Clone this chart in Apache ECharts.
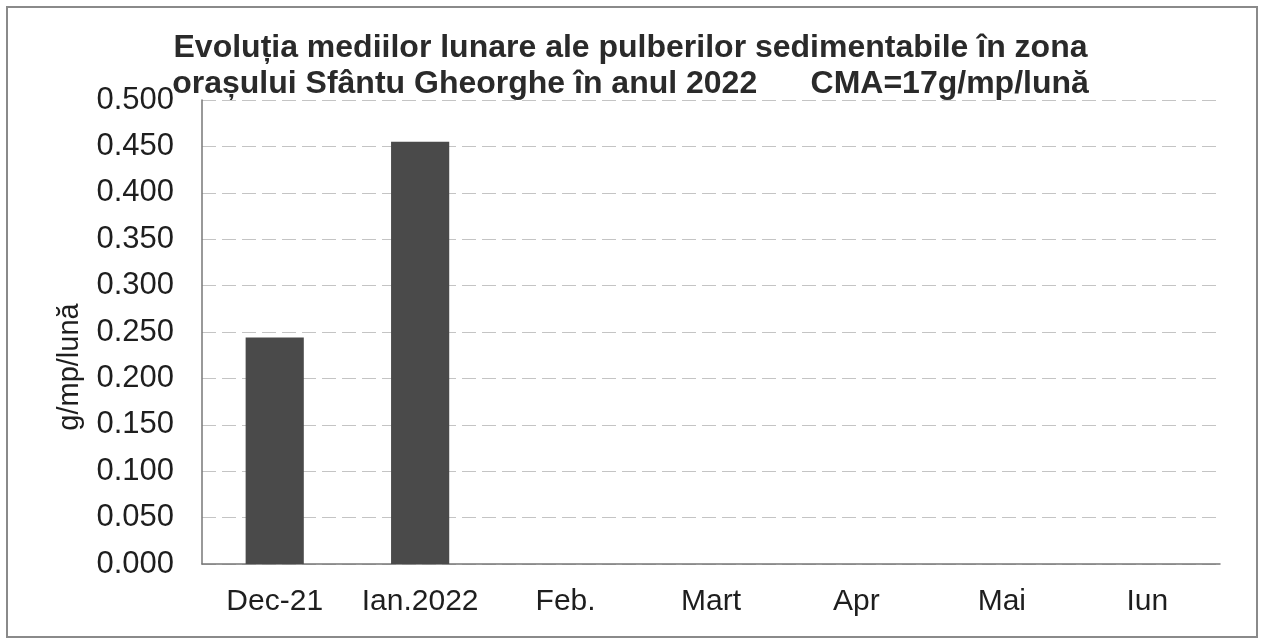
<!DOCTYPE html>
<html>
<head>
<meta charset="utf-8">
<script src="https://cdn.jsdelivr.net/npm/echarts@6/dist/echarts.min.js"></script>
<style>
  html, body { margin: 0; padding: 0; background: #fff; }
  #chart { width: 1261px; height: 641px; }
</style>
</head>
<body>
<div id="chart"></div>
<script>
// categorii (luni)
var months = ['Dec-21', 'Ian.2022', 'Feb.', 'Mart', 'Apr', 'Mai', 'Iun'];
// medii lunare g/mp/luna
var values = [0.244, 0.455, null, null, null, null, null];
var yMin = 0;
var yMax = 0.5;
var yStep = 0.05;

var chart = echarts.init(document.getElementById('chart'));
var font = 'Liberation Sans, Arial, sans-serif';

chart.setOption({
  animation: false,
  title: {
    text: 'Evoluția mediilor lunare ale pulberilor sedimentabile în zona\norașului Sfântu Gheorghe în anul 2022      CMA=17g/mp/lună',
    left: 'center',
    top: 25,
    textStyle: {
      fontFamily: font,
      fontWeight: 'bold',
      fontSize: 32,
      lineHeight: 36,
      color: '#2a2a2a'
    }
  },
  // chenarul exterior
  graphic: [{
    type: 'rect',
    shape: { x: 7, y: 7, width: 1250, height: 630 },
    style: { fill: null, stroke: '#8a8a8a', lineWidth: 2 },
    silent: true
  }],
  grid: {
    left: 202,
    right: 41,
    top: 100,
    bottom: 77
  },
  xAxis: {
    type: 'category',
    data: months,
    axisLine: { lineStyle: { color: '#777', width: 1.5 } },
    axisTick: { show: false },
    axisLabel: {
      interval: 0,
      margin: 23,
      fontFamily: font,
      fontSize: 30,
      color: '#1e1e1e'
    }
  },
  yAxis: {
    type: 'value',
    min: yMin,
    max: yMax,
    interval: yStep,
    name: 'g/mp/lună',
    nameLocation: 'middle',
    nameGap: 118,
    nameTextStyle: {
      fontFamily: font,
      fontSize: 29,
      color: '#1e1e1e',
      padding: [0, 70, 0, 0]
    },
    axisLine: { show: true, lineStyle: { color: '#777', width: 1.5 } },
    axisTick: { show: false },
    axisLabel: {
      margin: 28,
      fontFamily: font,
      fontSize: 31,
      color: '#1e1e1e',
      formatter: function (v) { return v.toFixed(3); }
    },
    splitLine: {
      lineStyle: { color: '#c4c4c4', type: [14, 6], width: 1.2 }
    }
  },
  series: [{
    type: 'bar',
    data: values,
    barWidth: '40%',
    itemStyle: { color: '#4a4a4a' }
  }]
});
</script>
</body>
</html>
